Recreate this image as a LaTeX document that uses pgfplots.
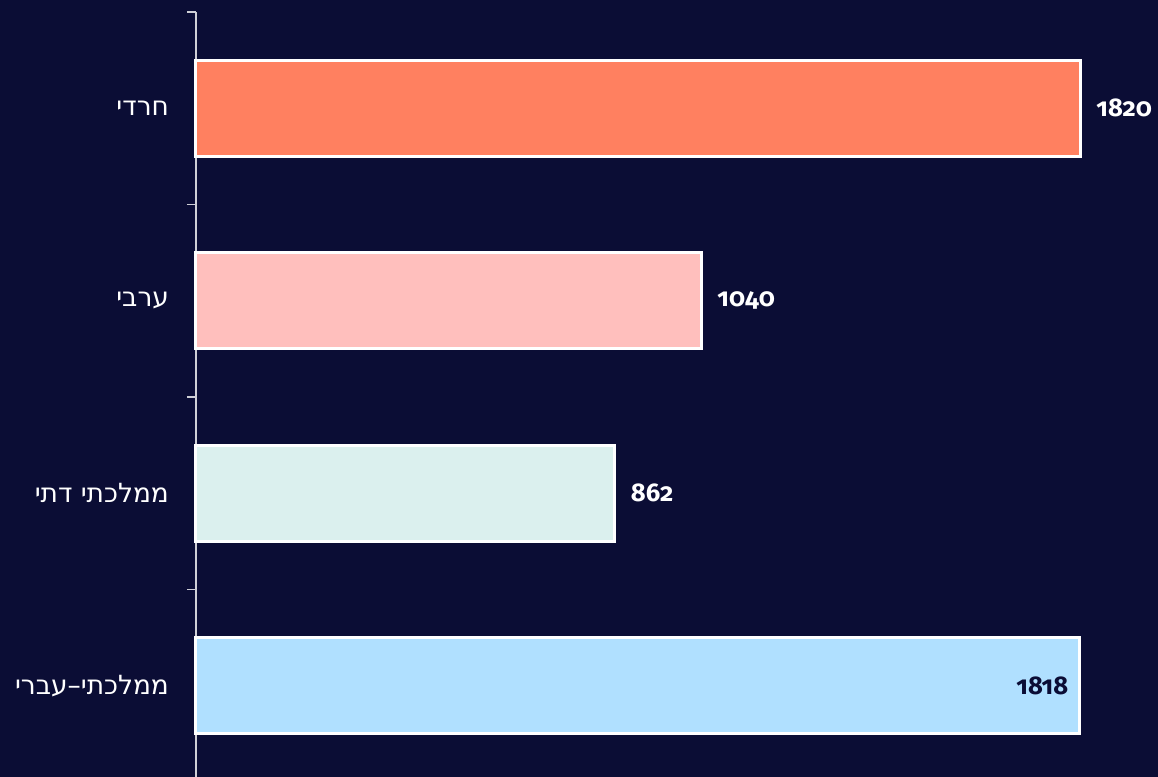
\documentclass[border=0pt]{standalone}
\usepackage{pgfplots}
\pgfplotsset{compat=1.18}
\usepackage{fontspec}
\setmainfont{Liberation Sans}
\newfontfamily\hebfont[Script=Hebrew]{DejaVu Sans}
\newfontfamily\numfont[Numbers=OldStyle]{Fira Sans}
\TeXXeTstate=1
\usetikzlibrary{backgrounds}
\definecolor{bg}{HTML}{0B0D35}
\definecolor{axcol}{HTML}{CFCFD6}
\definecolor{cHaredi}{HTML}{FF8060}
\definecolor{cArab}{HTML}{FFBFBD}
\definecolor{cDati}{HTML}{DBF0EE}
\definecolor{cIvri}{HTML}{B0E0FF}
\begin{document}
\begin{tikzpicture}
\begin{axis}[
  scale only axis, width=481pt, height=382.5pt,
  xmin=0, xmax=1980, ymin=-0.474, ymax=3.5,
  hide x axis,
  axis y line*=left,
  y axis line style={draw=axcol, line width=0.8pt},
  ytick={0,1,2,3},
  yticklabels={{\beginR ממלכתי–עברי\endR},{\beginR ממלכתי דתי\endR},{\beginR ערבי\endR},{\beginR חרדי\endR}},
  major tick length=0pt,
  minor ytick={-0.5,0.5,1.5,2.5,3.5},
  minor tick length=4.5pt,
  tick align=outside,
  every tick/.style={draw=axcol, line width=0.8pt},
  yticklabel style={font=\hebfont\fontsize{13.2}{14}\selectfont, text=white, xshift=-10pt},
  /pgf/number format/.cd, 1000 sep={}, assume math mode=true, /pgfplots/.cd,
  clip=false,
  bar width=0.5,
]
\addplot[xbar, bar shift=0pt, fill=cHaredi, draw=white, line width=1.5pt,
  nodes near coords, nodes near coords style={anchor=west, xshift=4pt, text=white, font=\numfont\bfseries\fontsize{12.8}{14}\selectfont}]
  coordinates {(1820,3)};
\addplot[xbar, bar shift=0pt, fill=cArab, draw=white, line width=1.5pt,
  nodes near coords, nodes near coords style={anchor=west, xshift=4pt, text=white, font=\numfont\bfseries\fontsize{12.8}{14}\selectfont}]
  coordinates {(1040,2)};
\addplot[xbar, bar shift=0pt, fill=cDati, draw=white, line width=1.5pt,
  nodes near coords, nodes near coords style={anchor=west, xshift=4pt, text=white, font=\numfont\bfseries\fontsize{12.8}{14}\selectfont}]
  coordinates {(862,1)};
\addplot[xbar, bar shift=0pt, fill=cIvri, draw=white, line width=1.5pt,
  nodes near coords, nodes near coords style={anchor=east, xshift=-1.5pt, text=bg, font=\numfont\bfseries\fontsize{12.8}{14}\selectfont}]
  coordinates {(1818,0)};
\end{axis}
\begin{pgfonlayer}{background}
\fill[bg] (-98pt,0) rectangle (481pt,388.5pt);
\end{pgfonlayer}
\pgfresetboundingbox
\path[use as bounding box] (-98pt,0) rectangle (481pt,388.5pt);
\end{tikzpicture}
\end{document}
